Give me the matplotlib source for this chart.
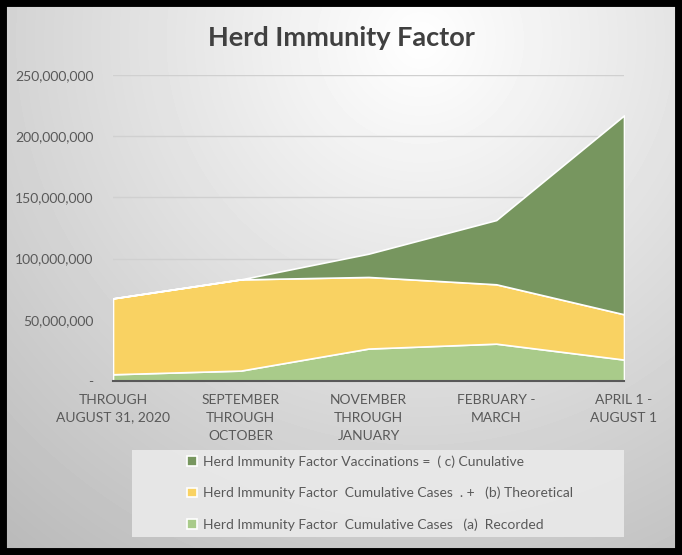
import numpy as np
import matplotlib
matplotlib.use('Agg')
import matplotlib.pyplot as plt
from matplotlib.ticker import FuncFormatter
from matplotlib.patches import Rectangle

# datos (millones)
periodos = ['THROUGH\nAUGUST 31, 2020', 'SEPTEMBER\nTHROUGH\nOCTOBER',
            'NOVEMBER\nTHROUGH\nJANUARY', 'FEBRUARY -\nMARCH', 'APRIL 1 -\nAUGUST 1']
registrados = [5.5, 8.5, 26.5, 30.5, 17.5]
teoricos = [62.0, 74.5, 58.5, 48.5, 37.0]
vacunas = [0.0, 0.0, 19.0, 52.5, 162.5]

nombres = ['Herd Immunity Factor  Cumulative Cases   (a)  Recorded',
           'Herd Immunity Factor  Cumulative Cases  . +   (b) Theoretical',
           'Herd Immunity Factor Vaccinations =  ( c) Cunulative']
colores = ['#A9CB8A', '#F9D262', '#77965F']

plt.rcParams['font.family'] = ['Lato', 'DejaVu Sans']

fig = plt.figure(figsize=(6.82, 5.55), dpi=100)

# fondo con degradado radial
bg = fig.add_axes([0, 0, 1, 1], zorder=-10)
yy, xx = np.mgrid[0:555, 0:682]
d = np.sqrt((xx - 420) ** 2 + (yy - 40) ** 2) / 650.0
val = np.clip(1.0 - 0.27 * d, 0, 1)
bg.imshow(val, cmap='gray', vmin=0, vmax=1, extent=[0, 1, 0, 1], aspect='auto')
bg.axis('off')
fig.patches.append(Rectangle((0, 0), 1, 1, transform=fig.transFigure,
                             fill=False, edgecolor='black', linewidth=10))

# caja de la leyenda
fig.patches.append(Rectangle((132 / 682, 1 - 537 / 555), 492 / 682, 87 / 555,
                             transform=fig.transFigure, facecolor='#EAEAEA',
                             alpha=0.9, edgecolor='none', zorder=1))

ax = fig.add_axes([113 / 682, 1 - 381 / 555, 511 / 682, 306 / 555])
ax.patch.set_alpha(0)

x = np.arange(len(periodos))
datos = np.array([registrados, teoricos, vacunas]) * 1e6
ax.stackplot(x, datos, colors=colores, labels=nombres,
             edgecolor='white', linewidth=1.2, zorder=3)

ax.set_xlim(0, len(periodos) - 1)
ax.set_ylim(0, 250e6)
ax.set_yticks(np.arange(0, 250e6 + 1, 50e6))
ax.yaxis.set_major_formatter(FuncFormatter(lambda v, p: '-' if v == 0 else f'{int(v):,}'))
ax.grid(axis='y', color='#D0D0D0', linewidth=1, zorder=0)
ax.set_axisbelow(True)
for s in ['top', 'right', 'left']:
    ax.spines[s].set_visible(False)
ax.spines['bottom'].set_color('#595959')
ax.spines['bottom'].set_linewidth(1.5)
ax.spines['bottom'].set_zorder(5)
ax.tick_params(axis='both', length=0, labelsize=10, labelcolor='#595959')
ax.tick_params(axis='y', pad=14)
ax.tick_params(axis='x', pad=9)
ax.set_xticks(x)
ax.set_xticklabels(periodos, linespacing=1.6)

fig.text(0.5, 1 - 38 / 555, 'Herd Immunity Factor', ha='center', va='center',
         fontsize=19.5, fontweight='bold', color='#404040')

h, l = ax.get_legend_handles_labels()
leg = fig.legend(h[::-1], l[::-1], loc='center',
                 bbox_to_anchor=(380 / 682, 1 - 493 / 555),
                 frameon=False, fontsize=10,
                 handlelength=0.7, handleheight=0.7, handletextpad=0.4,
                 labelspacing=1.35, borderpad=0.3, labelcolor='#595959')
leg._legend_box.align = 'left'

fig.savefig('out.png', dpi=100)
